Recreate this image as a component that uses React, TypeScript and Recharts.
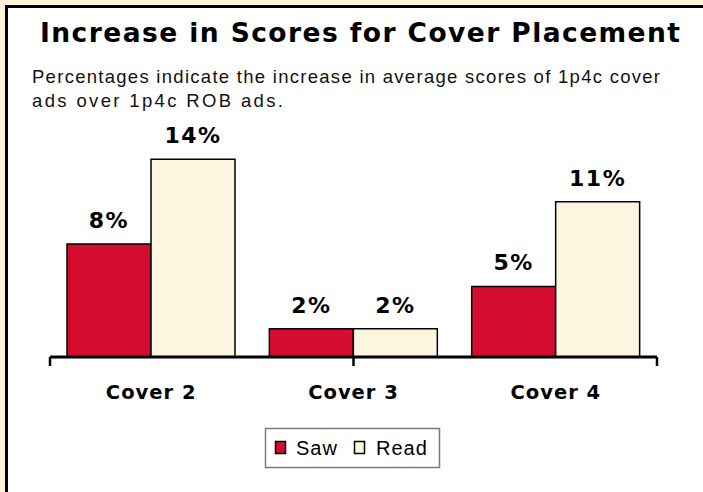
import React from 'react';
import { BarChart, Bar, XAxis, YAxis, LabelList } from 'recharts';

const categories = ['Cover 2', 'Cover 3', 'Cover 4'];
const sawValues = [8, 2, 5];
const readValues = [14, 2, 11];
const seriesNames = ['Saw', 'Read'];
const boundaryTicks = [0, 1, 2, 3];

const titleText = 'Increase in Scores for Cover Placement';
const subtitleLines = [
  'Percentages indicate the increase in average scores of 1p4c cover',
  'ads over 1p4c ROB ads.',
];

const RED = '#d40c2f';
const CREAM = '#fcf5e0';
const BEIGE = '#fdf3d6';

const data = categories.map((name, i) => ({ name, saw: sawValues[i], read: readValues[i] }));

const labelStyle = {
  fontFamily: '"DejaVu Sans", sans-serif',
  fontWeight: 700,
  fontSize: 22,
  letterSpacing: 1.5,
  fill: '#000',
};

const pct = (v: any) => `${v}%`;
const EmptyTick = () => <g />;

export default function App() {
  return (
    <div
      style={{
        position: 'absolute',
        left: 0,
        top: 0,
        width: 703,
        height: 492,
        background: BEIGE,
        overflow: 'hidden',
      }}
    >
      <div
        style={{
          position: 'absolute',
          left: 5,
          top: 5,
          width: 740,
          height: 540,
          background: '#fff',
          borderLeft: '3px solid #000',
          borderTop: '3px solid #000',
          boxSizing: 'border-box',
        }}
      />
      <svg
        width={703}
        height={492}
        style={{ position: 'absolute', left: 0, top: 0 }}
      >
        <text
          x={40}
          y={42}
          fontFamily='"DejaVu Sans", sans-serif'
          fontWeight={700}
          fontSize={26.5}
          textLength={640}
          fill="#000"
        >
          {titleText}
        </text>
        <text
          x={32}
          y={83}
          fontFamily='"Liberation Sans", Arial, sans-serif'
          fontSize={18.5}
          textLength={628}
          fill="#111"
        >
          {subtitleLines[0]}
        </text>
        <text
          x={32}
          y={107}
          fontFamily='"Liberation Sans", Arial, sans-serif'
          fontSize={18.5}
          textLength={251}
          fill="#111"
        >
          {subtitleLines[1]}
        </text>
        <rect x={265.5} y={428.5} width={174} height={39} fill="#fff" stroke="#7a7a7a" strokeWidth={1.5} />
        <rect x={275.5} y={441.5} width={10} height={12} fill={RED} stroke="#000" strokeWidth={1.5} />
        <text x={296} y={455} fontFamily='"Liberation Sans", Arial, sans-serif' fontSize={20} letterSpacing={1} fill="#000">
          {seriesNames[0]}
        </text>
        <rect x={354.5} y={441.5} width={10} height={12} fill={CREAM} stroke="#000" strokeWidth={1.5} />
        <text x={376} y={455} fontFamily='"Liberation Sans", Arial, sans-serif' fontSize={20} letterSpacing={1} fill="#000">
          {seriesNames[1]}
        </text>
      </svg>
      <div style={{ position: 'absolute', left: 0, top: 0 }}>
        <BarChart
          width={703}
          height={492}
          data={data}
          margin={{ top: 131, right: 46, bottom: 94, left: 50 }}
          barCategoryGap="8.4%"
          barGap={0}
        >
          <YAxis hide width={0} domain={[0, 16]} />
          <XAxis
            xAxisId="b"
            type="number"
            domain={[0, 3]}
            ticks={boundaryTicks}
            allowDataOverflow
            height={1}
            tick={EmptyTick}
            tickSize={9}
            tickLine={{ stroke: '#000', strokeWidth: 2.5 }}
            axisLine={{ stroke: '#000', strokeWidth: 3 }}
          />
          <XAxis
            xAxisId="cat"
            dataKey="name"
            height={40}
            axisLine={false}
            tickLine={false}
            tickMargin={21}
            tick={{
              fontFamily: '"DejaVu Sans", sans-serif',
              fontWeight: 700,
              fontSize: 19.5,
              letterSpacing: 1,
              fill: '#000',
            }}
          />
          <Bar
            xAxisId="cat"
            dataKey="saw"
            name={seriesNames[0]}
            fill={RED}
            stroke="#000"
            strokeWidth={1.5}
            isAnimationActive={false}
          >
            <LabelList dataKey="saw" position="top" offset={16} formatter={pct} style={labelStyle} />
          </Bar>
          <Bar
            xAxisId="cat"
            dataKey="read"
            name={seriesNames[1]}
            fill={CREAM}
            stroke="#000"
            strokeWidth={1.5}
            isAnimationActive={false}
          >
            <LabelList dataKey="read" position="top" offset={16} formatter={pct} style={labelStyle} />
          </Bar>
        </BarChart>
      </div>
    </div>
  );
}
